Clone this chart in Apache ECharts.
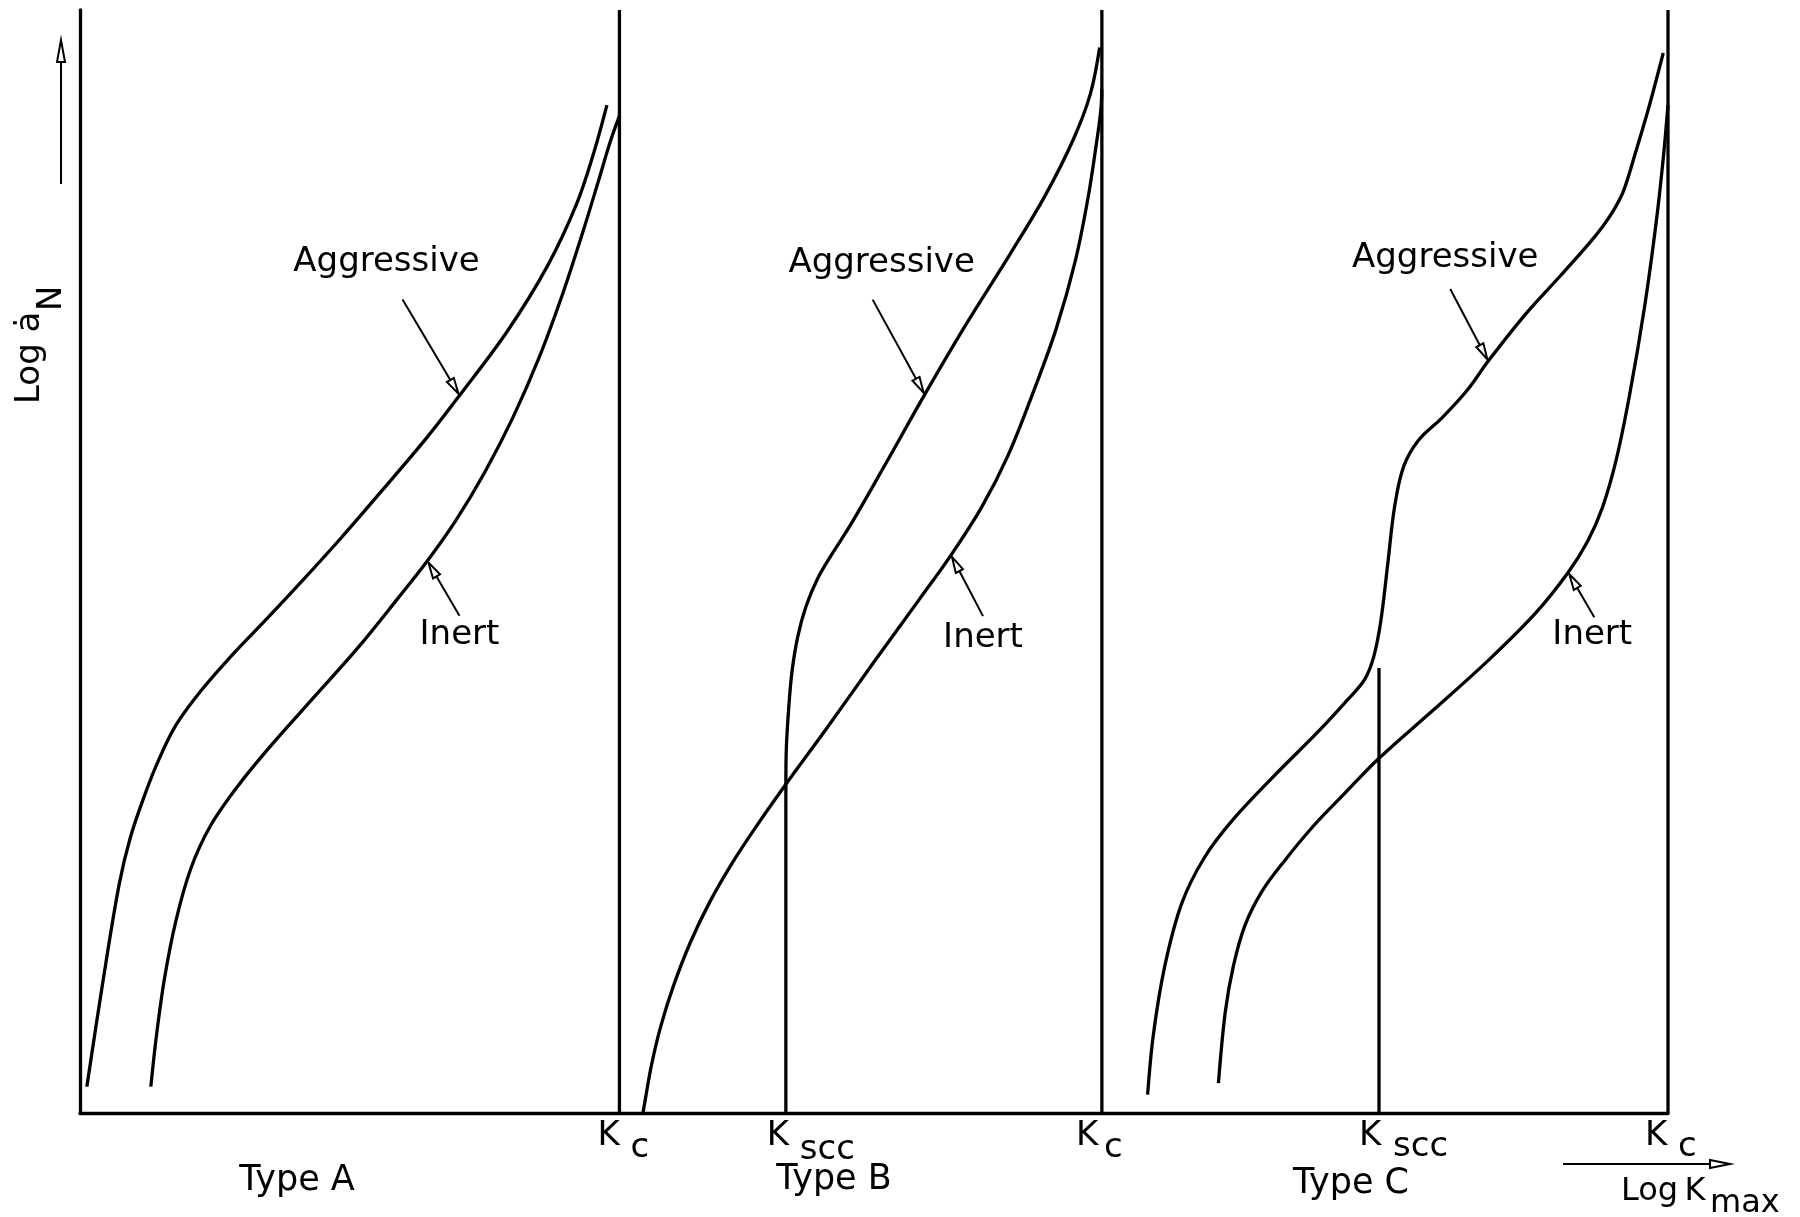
<!DOCTYPE html>
<html><head><meta charset="utf-8">
<script src="https://cdn.jsdelivr.net/npm/echarts@6/dist/echarts.min.js"></script>
<style>html,body{margin:0;padding:0;background:#fff}#c{width:1800px;height:1217px}</style>
</head><body><div id="c"></div>
<script>
// ---- data (arbitrary log units: x = Log K_max, y = Log da/dN) ----
const typeA_aggressive = [[0.43,2.39],[1.37,11.24],[2.45,20.61],[3.17,24.98],[4.10,28.93],[4.97,32.06],[6.05,35.18],[7.63,38.30],[9.65,41.63],[11.80,44.86],[13.96,48.19],[16.48,52.20],[19.00,56.40],[21.88,61.30],[23.90,65.05],[26.92,70.90],[29.44,76.80],[31.24,82.30],[32.32,86.90],[33.18,91.38]];
const typeA_inert = [[4.46,2.39],[4.82,7.08],[5.33,12.28],[6.05,17.49],[6.98,22.17],[8.21,26.02],[10.01,29.77],[12.16,33.53],[14.68,37.61],[17.56,42.28],[20.08,46.77],[21.88,50.06],[23.68,53.75],[25.48,58.07],[27.28,63.11],[28.94,68.59],[30.38,74.20],[31.60,79.57],[32.68,84.65],[33.40,88.10],[33.97,90.40]];
const typeB_aggressive = [[44.45,29.80],[44.48,33.10],[44.63,36.74],[44.84,40.07],[45.20,43.19],[45.71,45.90],[46.43,48.40],[47.36,50.69],[48.51,53.29],[50.67,58.70],[53.19,65.13],[55.71,71.30],[58.59,77.92],[60.75,83.10],[62.55,88.26],[63.63,92.42],[64.21,96.59]];
const typeB_inert = [[35.45,0.00],[35.63,1.49],[35.99,4.37],[36.57,7.85],[37.36,11.48],[38.44,15.48],[39.66,19.14],[41.03,22.57],[42.47,25.74],[44.45,29.80],[47.07,34.97],[49.95,40.80],[52.83,46.52],[54.85,50.58],[56.79,54.95],[58.45,59.64],[60.03,65.36],[61.47,71.09],[62.69,77.33],[63.49,83.06],[63.99,87.74],[64.28,90.86],[64.35,92.80]];
const typeC_aggressive = [[67.23,1.67],[67.59,7.08],[68.31,13.32],[69.39,19.05],[70.83,23.21],[72.63,26.64],[75.15,30.50],[78.03,34.66],[79.83,37.47],[80.91,39.34],[81.48,41.42],[81.91,44.55],[82.35,49.75],[82.78,54.95],[83.35,58.60],[84.29,60.99],[85.80,63.07],[87.38,65.57],[88.68,68.17],[90.98,72.34],[93.14,75.77],[94.94,78.68],[95.90,80.40],[96.60,81.90],[97.20,83.60],[97.90,86.80],[98.80,91.20],[99.70,96.10]];
const typeC_inert = [[71.69,2.71],[72.12,9.16],[72.63,13.32],[73.35,16.97],[74.43,20.09],[75.87,22.90],[77.67,26.02],[79.61,28.93],[81.80,32.16],[85.22,36.53],[88.82,41.22],[91.70,45.38],[93.72,49.02],[94.94,51.83],[95.88,54.93],[96.74,59.23],[97.60,65.25],[98.54,73.24],[99.26,80.80],[99.69,86.39],[100.00,91.40]];

// threshold positions (K_c and K_scc) and where the K_scc marker lines end
const kValues = [33.97, 44.45, 64.35, 81.8, 100];
const kSubs = ['c', 'scc', 'c', 'scc', 'c'];
const kLineTops = [100, 29.80, 100, 40.34, 100];
const typeLabels = ['Type A', 'Type B', 'Type C'];
const xTitle = ['Log\u2009K', 'max'];
const yTitle = ['Log \u0227', 'N'];

// ---- layout (pixel offsets only) ----
const FONT = '34px "DejaVu Sans"';
const FONT_T = '35px "DejaVu Sans"';
const FONT_X = '32px "DejaVu Sans"';
const callouts = [
  {text:'Aggressive', curve:typeA_aggressive, idx:14, tail:[-57,-96], label:[-73,-133]},
  {text:'Inert',      curve:typeA_inert,      idx:11, tail:[32,55],   label:[32,74]},
  {text:'Aggressive', curve:typeB_aggressive, idx:10, tail:[-52,-95], label:[-43,-131]},
  {text:'Inert',      curve:typeB_inert,      idx:13, tail:[32,61],   label:[32,83]},
  {text:'Aggressive', curve:typeC_aggressive, idx:18, tail:[-38,-72], label:[-43,-103]},
  {text:'Inert',      curve:typeC_inert,      idx:12, tail:[26,45],   label:[24,63]}
];
const kLayout = [
  {k:[-22,23.5], s:[11,35]},
  {k:[-19,23.5], s:[14,37]},
  {k:[-26,23.5], s:[2,35]},
  {k:[-20,23.5], s:[14,34]},
  {k:[-23,23.5], s:[10,34]}
];

const chart = echarts.init(document.getElementById('c'), null, {renderer:'canvas'});
const curveStyle = {color:'#000', width:3.3};
function curve(name, data){
  return {type:'line', name, data, smooth:0.35, showSymbol:false, symbol:'none', lineStyle:curveStyle, clip:false, z:3};
}
const series = [
  curve('Type A aggressive', typeA_aggressive),
  curve('Type A inert', typeA_inert),
  curve('Type B aggressive', typeB_aggressive),
  curve('Type B inert', typeB_inert),
  curve('Type C aggressive', typeC_aggressive),
  curve('Type C inert', typeC_inert)
];
kValues.forEach((v,i)=>{
  series.push({type:'line', name:'K'+kSubs[i], data:[[v,0],[v,kLineTops[i]]], showSymbol:false, symbol:'none',
    lineStyle:{color:'#000', width:3.3}, clip:false, z:2});
});
series.push({
  type:'custom', name:'callouts', clip:false, z:5,
  data: callouts.map(c=>[c.curve[c.idx][0], c.curve[c.idx][1]]),
  renderItem:function(params, api){
    const c = callouts[params.dataIndex];
    const p = api.coord([api.value(0), api.value(1)]);
    const t = [p[0]+c.tail[0], p[1]+c.tail[1]];
    const dx=p[0]-t[0], dy=p[1]-t[1], len=Math.hypot(dx,dy), ux=dx/len, uy=dy/len, nx=-uy, ny=ux;
    const L=18, W=4;
    const b=[p[0]-ux*L, p[1]-uy*L];
    return {type:'group', children:[
      {type:'line', shape:{x1:t[0],y1:t[1],x2:b[0],y2:b[1]}, style:{stroke:'#000', lineWidth:2}},
      {type:'polygon', shape:{points:[[p[0]-ux*2,p[1]-uy*2],[b[0]+nx*W,b[1]+ny*W],[b[0]-nx*W,b[1]-ny*W]]}, style:{fill:'#fff', stroke:'#000', lineWidth:2}},
      {type:'text', x:p[0]+c.label[0], y:p[1]+c.label[1], style:{text:c.text, font:FONT, fill:'#000', align:'center', verticalAlign:'middle'}}
    ]};
  }
});
series.push({
  type:'custom', name:'K labels', clip:false, z:5,
  data: kValues.map(v=>[v,0]),
  renderItem:function(params, api){
    const i = params.dataIndex, lay = kLayout[i];
    const p = api.coord([api.value(0), api.value(1)]);
    return {type:'group', children:[
      {type:'text', x:p[0]+lay.k[0], y:p[1]+lay.k[1], style:{text:'K', font:FONT, fill:'#000', align:'left', verticalAlign:'middle'}},
      {type:'text', x:p[0]+lay.s[0], y:p[1]+lay.s[1], style:{text:kSubs[i], font:FONT, fill:'#000', align:'left', verticalAlign:'middle'}}
    ]};
  }
});

chart.setOption({
  animation:false,
  backgroundColor:'#fff',
  grid:{left:80, right:132, top:10, bottom:104, containLabel:false},
  xAxis:{type:'value', min:0, max:100, axisLine:{show:true, lineStyle:{color:'#000', width:3.3}},
    axisTick:{show:false}, axisLabel:{show:false}, splitLine:{show:false}},
  yAxis:{type:'value', min:0, max:100, axisLine:{show:true, lineStyle:{color:'#000', width:3.3}},
    axisTick:{show:false}, axisLabel:{show:false}, splitLine:{show:false}},
  series,
  graphic:[
    {type:'text', x:297, y:1181, style:{text:typeLabels[0], font:FONT_T, fill:'#000', align:'center', verticalAlign:'middle'}},
    {type:'text', x:834, y:1180, style:{text:typeLabels[1], font:FONT_T, fill:'#000', align:'center', verticalAlign:'middle'}},
    {type:'text', x:1351, y:1184, style:{text:typeLabels[2], font:FONT_T, fill:'#000', align:'center', verticalAlign:'middle'}},
    {type:'text', x:1621, y:1192, style:{text:xTitle[0], font:FONT_X, fill:'#000', align:'left', verticalAlign:'middle'}},
    {type:'text', x:1710, y:1204, style:{text:xTitle[1], font:FONT_X, fill:'#000', align:'left', verticalAlign:'middle'}},
    {type:'line', shape:{x1:1563,y1:1164,x2:1712,y2:1164}, style:{stroke:'#000', lineWidth:2}},
    {type:'polygon', shape:{points:[[1730,1164],[1710,1160],[1710,1168]]}, style:{fill:'#fff', stroke:'#000', lineWidth:2}},
    {type:'line', shape:{x1:61,y1:184,x2:61,y2:60}, style:{stroke:'#000', lineWidth:2}},
    {type:'polygon', shape:{points:[[61,40],[57,62],[65,62]]}, style:{fill:'#fff', stroke:'#000', lineWidth:2}},
    {type:'group', x:30, y:404, rotation:Math.PI/2, children:[
      {type:'text', x:0, y:0, style:{text:yTitle[0], font:FONT, fill:'#000', align:'left', verticalAlign:'middle'}},
      {type:'text', x:93, y:22, style:{text:yTitle[1], font:FONT, fill:'#000', align:'left', verticalAlign:'middle'}}
    ]}
  ]
});
</script></body></html>
